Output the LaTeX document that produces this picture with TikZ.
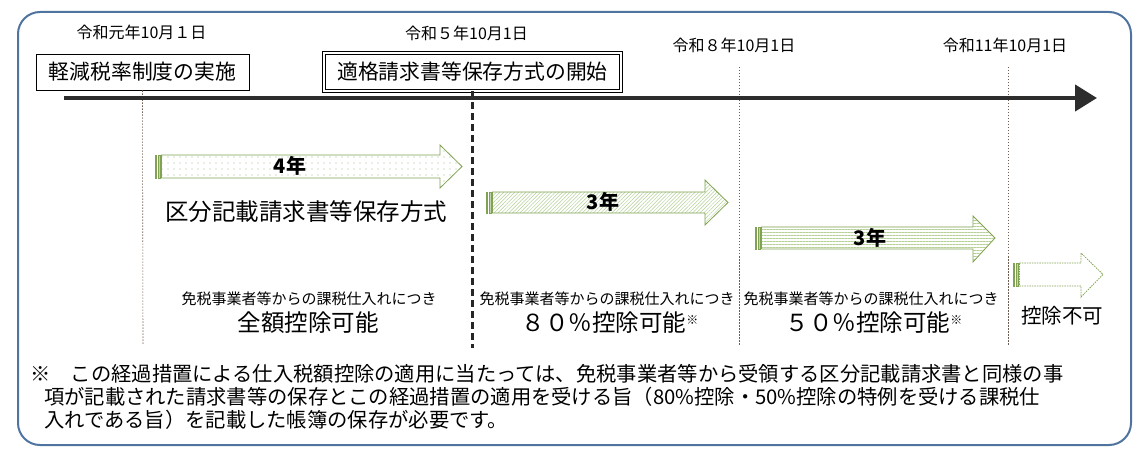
\documentclass[tikz,border=0pt]{standalone}
\usepackage{fontspec}
\setmainfont{Noto Sans CJK JP}
\usetikzlibrary{arrows.meta,patterns.meta}
\definecolor{frameblue}{RGB}{80,116,160}
\definecolor{agreen}{RGB}{128,162,82}
\definecolor{pgreen}{RGB}{180,208,148}
\definecolor{bargreen}{RGB}{150,185,110}
\definecolor{vline}{RGB}{110,95,85}
\newcommand\stripedarrow[8]{%
  \draw[barstyle] (#2,#3) rectangle ({#2+1.6},#4);
  \draw[barstyle] ({#2+3.2},#3) rectangle ({#2+4.8},#4);
  \draw[#1] ({#2+6.4},#3) -- (#5,#3) -- (#5,#6) -- (#8,{(#3+#4)/2}) -- (#5,#7) -- (#5,#4) -- ({#2+6.4},#4) -- cycle;
}
\begin{document}
\begin{tikzpicture}[x=1pt,y=-1pt,
  frame/.style={draw=frameblue,line width=2pt,rounded corners=22pt},
  datelbl/.style={inner sep=0pt,font=\fontsize{16}{18}\selectfont},
  boxlbl/.style={draw=black,line width=0.8pt,inner sep=0pt,minimum height=36pt,font=\fontsize{20.8}{22}\selectfont},
  dblbox/.style={draw=black,double,double distance=2pt,line width=0.7pt,inner sep=0pt,minimum height=38pt,font=\fontsize{20.8}{22}\selectfont},
  timeline/.style={draw={rgb,255:red,45;green,45;blue,45},line width=4.5pt,-{Triangle[length=22pt,width=26pt]}},
  dotline/.style={draw=vline,line width=0.6pt,dash pattern=on 1.5pt off 1.5pt},
  thickdash/.style={draw=black!85,line width=2.6pt,dash pattern=on 7pt off 4pt},
  barstyle/.style={draw=agreen,line width=0.6pt,fill=bargreen!60},
  arrowA/.style={draw=agreen,line width=0.8pt,preaction={fill=white},pattern={Dots[distance=6pt,radius=0.7pt]},pattern color=pgreen!90!black},
  arrowB/.style={draw=agreen,line width=0.8pt,preaction={fill=white},pattern={Lines[angle=45,distance=2.6pt,line width=0.5pt]},pattern color=pgreen},
  arrowC/.style={draw=agreen,line width=0.8pt,preaction={fill=white},pattern={Lines[angle=0,distance=3pt,line width=0.5pt]},pattern color=pgreen},
  arrowD/.style={draw=agreen,line width=0.8pt,dash pattern=on 1.5pt off 1pt,fill=white},
  yearlbl/.style={inner sep=0pt,font=\fontsize{20}{22}\selectfont\bfseries},
  bigtxt/.style={inner sep=0pt,font=\fontsize{23.5}{25}\selectfont},
  smalltxt/.style={inner sep=0pt,font=\fontsize{15}{17}\selectfont},
  notetxt/.style={inner sep=0pt,anchor=west,font=\fontsize{20.3}{22}\selectfont}
]
\useasboundingbox (0,0) rectangle (1144,457);
\draw[frame] (18,12) rectangle (1131,445);

% dates
\node[datelbl] (d1) at (141.5,32) {令和元年10月１日};
\node[datelbl] (d2) at (466.5,33) {令和５年10月1日};
\node[datelbl] (d3) at (734,45) {令和８年10月1日};
\node[datelbl] (d4) at (1005,45) {令和11年10月1日};

% boxes
\node[boxlbl,minimum width=213pt] (b1) at (142.5,72) {軽減税率制度の実施};
\node[dblbox,minimum width=297pt] (b2) at (472.5,72) {適格請求書等保存方式の開始};

% vertical lines
\coordinate (v1b) at (143,345);
\coordinate (v2b) at (472.5,348);
\coordinate (v3t) at (739,67);
\coordinate (v3b) at (739,345);
\coordinate (v4t) at (1008,67);
\coordinate (v4b) at (1008,345);
\draw[dotline] (b1.south) -- (v1b);
\draw[thickdash] (b2.south) -- (v2b);
\draw[dotline] (v3t) -- (v3b);
\draw[dotline] (v4t) -- (v4b);

% timeline
\coordinate (ts) at (64,98);
\coordinate (te) at (1097,98);
\draw[timeline] (ts) -- (te);

% block arrows
\stripedarrow{arrowA}{155}{155}{178}{440}{145}{188}{462}
\stripedarrow{arrowB}{486}{192}{213}{705}{180}{225}{728}
\stripedarrow{arrowC}{755}{227}{249}{973}{216}{262}{995}
\stripedarrow{arrowD}{1013}{263}{286}{1081}{253}{297}{1103}

\node[yearlbl] (y1) at (290,166) {4年};
\node[yearlbl] (y2) at (603,202) {3年};
\node[yearlbl] (y3) at (870,238) {3年};

\node[bigtxt] (kubun) at (306,212) {区分記載請求書等保存方式};

% lower texts
\node[smalltxt] (s1) at (309,299) {免税事業者等からの課税仕入れにつき};
\node[smalltxt] (s2) at (607,299) {免税事業者等からの課税仕入れにつき};
\node[smalltxt] (s3) at (871,299) {免税事業者等からの課税仕入れにつき};
\node[bigtxt] (t1) at (308,323) {全額控除可能};
\node[bigtxt] (t2) at (610,323) {８０％控除可能{\fontsize{12}{12}\selectfont\raisebox{7pt}{※}}};
\node[bigtxt] (t3) at (874,323) {５０％控除可能{\fontsize{12}{12}\selectfont\raisebox{7pt}{※}}};
\node[inner sep=0pt,font=\fontsize{20.5}{22}\selectfont] (t4) at (1062,316) {控除不可};

% note
\node[notetxt] (n1) at (30,374) {※　この経過措置による仕入税額控除の適用に当たっては、免税事業者等から受領する区分記載請求書と同様の事};
\node[notetxt] (n2) at (44,397) {項が記載された請求書等の保存とこの経過措置の適用を受ける旨（80\%控除・50\%控除の特例を受ける課税仕};
\node[notetxt] (n3) at (44,420) {入れである旨）を記載した帳簿の保存が必要です。};
\end{tikzpicture}
\end{document}
